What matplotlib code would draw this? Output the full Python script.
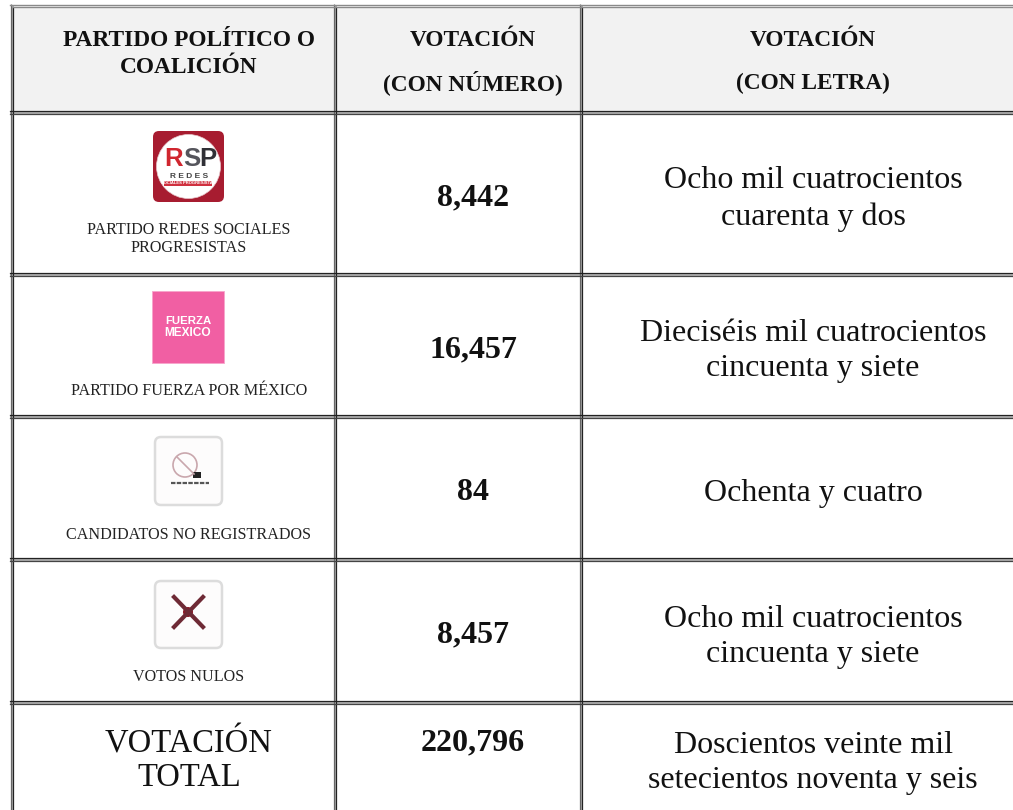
import matplotlib
matplotlib.use('Agg')
import matplotlib.pyplot as plt
from matplotlib.patches import Rectangle, FancyBboxPatch, Circle

plt.rcParams['font.family'] = ['Liberation Serif', 'DejaVu Serif']

headers = ['PARTIDO POLÍTICO O\nCOALICIÓN', 'VOTACIÓN', '(CON NÚMERO)', 'VOTACIÓN', '(CON LETRA)']
parties = ['PARTIDO REDES SOCIALES\nPROGRESISTAS', 'PARTIDO FUERZA POR MÉXICO',
           'CANDIDATOS NO REGISTRADOS', 'VOTOS NULOS']
votes = ['8,442', '16,457', '84', '8,457', '220,796']
words = ['Ocho mil cuatrocientos\ncuarenta y dos', 'Dieciséis mil cuatrocientos\ncincuenta y siete',
         'Ochenta y cuatro', 'Ocho mil cuatrocientos\ncincuenta y siete',
         'Doscientos veinte mil\nsetecientos noventa y seis']
total_label = 'VOTACIÓN\nTOTAL'

fig = plt.figure(figsize=(10.13, 8.10), dpi=100)
ax = fig.add_axes([0, 0, 1, 1])
ax.set_xlim(0, 1013)
ax.set_ylim(810, 0)
ax.axis('off')

# header background
ax.add_patch(Rectangle((13, 7), 1000, 104, fc='#f2f2f2', ec='none'))

# double rules of the table
for x in [10.5, 333.5, 579.5]:
    ax.add_patch(Rectangle((x, 5), 3, 805, fc='#b0b0b0', ec='none'))
    ax.plot([x, x], [4, 810], color='#666666', lw=0.9, solid_capstyle='butt')
    ax.plot([x + 2.5, x + 2.5], [7, 810], color='#222222', lw=0.9, solid_capstyle='butt')
ax.plot([10, 1013], [4.5, 4.5], color='#8a8a8a', lw=1.0)
ax.plot([13, 1013], [7, 7], color='#8a8a8a', lw=1.0)
for y in [111, 272.5, 415, 558, 701]:
    ax.add_patch(Rectangle((10, y), 1003, 3, fc='#b0b0b0', ec='none'))
    ax.plot([10, 1013], [y, y], color='#222222', lw=0.9)
    ax.plot([10, 1013], [y + 3, y + 3], color='#444444', lw=0.9)

# header text
ax.text(189, 54, headers[0], ha='center', va='center', fontsize=16.8, fontweight='bold',
        linespacing=1.37, color='#111111')
ax.text(473, 41, headers[1], ha='center', va='center', fontsize=16.8, fontweight='bold', color='#111111')
ax.text(473, 83, headers[2], ha='center', va='center', fontsize=16.8, fontweight='bold', color='#111111')
ax.text(813, 41, headers[3], ha='center', va='center', fontsize=16.8, fontweight='bold', color='#111111')
ax.text(813, 83, headers[4], ha='center', va='center', fontsize=16.8, fontweight='bold', color='#111111')

# party labels
label_y = [239, 391, 535, 677]
for name, y in zip(parties, label_y):
    ax.text(189, y, name, ha='center', va='center', fontsize=11.6, linespacing=1.12, color='#222222')
ax.text(189, 761, total_label, ha='center', va='center', fontsize=23.5, linespacing=1.17, color='#111111')

# vote figures and words
vote_y = [198, 350, 492, 635, 743]
word_y = [199, 351, 493, 637, 763]
for v, w, vy, wy in zip(votes, words, vote_y, word_y):
    ax.text(473, vy, v, ha='center', va='center', fontsize=23, fontweight='bold', color='#111111')
    ax.text(813, wy, w, ha='center', va='center', fontsize=23, linespacing=1.31, color='#111111')

# RSP logo
ax.add_patch(FancyBboxPatch((156, 134), 65, 65, boxstyle='round,pad=3,rounding_size=6',
                            fc='#a71c30', ec='none'))
ax.add_patch(Circle((188.5, 166.5), 32, fc='white', ec='#e8c8cc', lw=0.5))
ax.text(174, 159, 'R', ha='center', va='center', fontsize=18.5, fontweight='bold',
        family='Liberation Sans', color='#d0262f')
ax.text(191.5, 159, 'S', ha='center', va='center', fontsize=18.5, fontweight='bold',
        family='Liberation Sans', color='#55555c')
ax.text(208, 159, 'P', ha='center', va='center', fontsize=18.5, fontweight='bold',
        family='Liberation Sans', color='#303036')
ax.text(189, 176, 'R E D E S', ha='center', va='center', fontsize=6, fontweight='bold',
        family='Liberation Sans', color='#444444')
ax.add_patch(Rectangle((164, 181), 48, 5, fc='#d0303f', ec='none'))
ax.text(188, 183.5, 'SOCIALES PROGRESISTAS', ha='center', va='center', fontsize=3, fontweight='bold',
        family='Liberation Sans', color='white')

# Fuerza por Mexico logo
ax.add_patch(Rectangle((152, 291), 72, 72, fc='#f15fa3', ec='#f7a5cc', lw=0.6))
ax.text(188, 321, 'FUERZA', ha='center', va='center', fontsize=8.2, fontweight='bold',
        family='Liberation Sans', color='white')
ax.text(188, 332.5, 'MEXICO', ha='center', va='center', fontsize=8.6, fontweight='bold',
        family='Liberation Sans', color='white')

# blank ballot boxes
for top, h in [(437, 68), (581, 67)]:
    ax.add_patch(FancyBboxPatch((160, top + 5), 57, h - 10, boxstyle='round,pad=5,rounding_size=6',
                                fc='#fdfcfc', ec='#dcdcdc', lw=1.8))

# candidates not registered icon
ax.add_patch(Circle((185, 465), 12, fc='none', ec='#c9a7ad', lw=1.2))
ax.plot([177, 194], [457, 474], color='#c9a7ad', lw=1.2)
ax.add_patch(Rectangle((193, 472), 8, 6, fc='#222222', ec='none'))
ax.plot([171, 209], [483, 483], color='#555555', lw=1.6, ls=(0, (2, 0.6)))

# null vote icon
ax.plot([174, 203], [597, 627], color='#6e2a35', lw=3)
ax.plot([203, 174], [597, 627], color='#6e2a35', lw=3)
ax.add_patch(Circle((188, 612), 5, fc='#8a1a28', ec='none'))

fig.savefig('out.png', dpi=100)
